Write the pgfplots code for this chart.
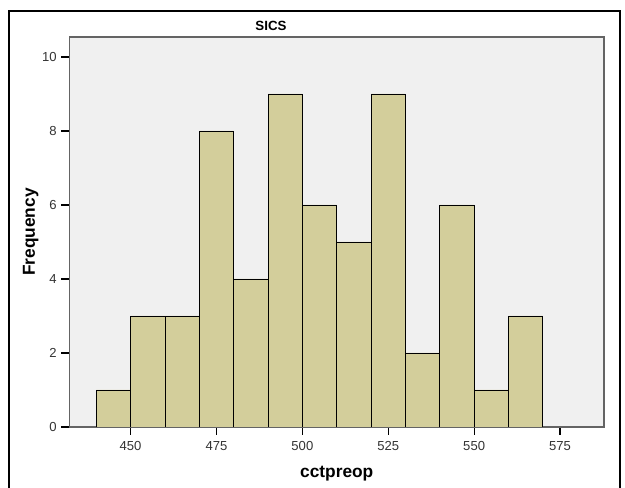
\documentclass[border=0pt]{standalone}
\usepackage{pgfplots}
\pgfplotsset{compat=1.18}
\usepackage{fontspec}
\setmainfont{Liberation Sans}

\definecolor{barfill}{RGB}{211,206,155}
\definecolor{plotbg}{RGB}{240,240,240}
\definecolor{framegray}{RGB}{100,100,100}

\begin{document}
\begin{tikzpicture}
% page: 625 x 488 px, 1 px = 0.75pt
\path[use as bounding box] (0,0) rectangle (468.75pt,366pt);
\begin{axis}[
    at={(52.1pt,45.75pt)}, anchor=south west,
    scale only axis,
    width=400.9pt, height=292.5pt,
    xmin=432.2, xmax=587.8,
    ymin=0, ymax=10.54,
    axis background/.style={fill=plotbg},
    axis line style={framegray, line width=1.1pt},
    xtick={450,475,500,525,550,575},
    ytick={0,2,4,6,8,10},
    tick align=outside,
    tick pos=left,
    major tick length=6pt,
    tick style={black, line width=0.8pt},
    ticklabel style={font=\fontsize{9.8}{11}\selectfont, text=black!80},
    xticklabel style={yshift=-1pt},
    /pgf/number format/assume math mode=true,
    xlabel={\textbf{cctpreop}},
    ylabel={\textbf{Frequency}},
    label style={font=\fontsize{13}{15}\selectfont},
    xlabel style={yshift=-5pt},
    ylabel style={yshift=-4pt},
    title={\textbf{SICS}},
    title style={at={(0.377,1)}, anchor=south, yshift=-5pt, font=\fontsize{10}{12}\selectfont},
]
\addplot[ybar interval, fill=barfill, draw=black, line width=0.7pt]
coordinates {(440,1) (450,3) (460,3) (470,8) (480,4) (490,9) (500,6) (510,5)
             (520,9) (530,2) (540,6) (550,1) (560,3) (570,3)};
\end{axis}
% outer border of the exported figure
\draw[black, line width=1.6pt] (6.75pt,-2pt) -- (6.75pt,357.75pt) -- (465pt,357.75pt) -- (465pt,-2pt);
\end{tikzpicture}
\end{document}
